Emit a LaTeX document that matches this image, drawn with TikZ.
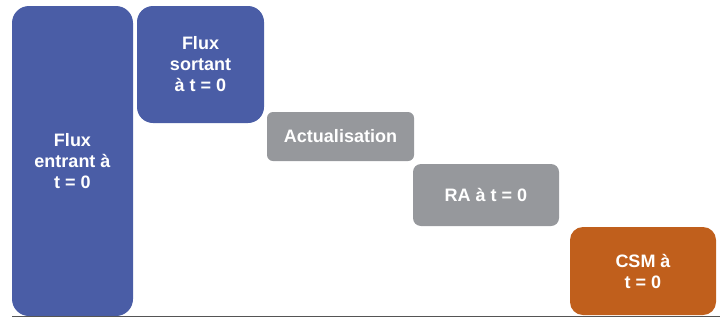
\documentclass[tikz,border=0pt]{standalone}
\usepackage{fontspec}
\setmainfont{Liberation Sans}
\definecolor{fluxblue}{HTML}{4A5DA6}
\definecolor{stepgray}{HTML}{96989C}
\definecolor{csmorange}{HTML}{C05F1C}
\definecolor{axisgray}{HTML}{555555}
\tikzset{
  block/.style={draw=none, text=white, align=center, inner sep=0pt,
    font=\fontsize{18}{21}\selectfont\bfseries},
}
\begin{document}
\begin{tikzpicture}[x=1pt, y=-1pt]
  \useasboundingbox (0,0) rectangle (723,322);
  % waterfall blocks (pixel coordinates, y downward)
  \node[block, fill=fluxblue, rounded corners=17pt, minimum width=121pt, minimum height=310pt]
    (entrant) at (72.5,161) {Flux\\entrant à\\t = 0};
  \node[block, fill=fluxblue, rounded corners=16pt, minimum width=127pt, minimum height=117pt]
    (sortant) at (200.5,64.5) {Flux\\sortant\\à t = 0};
  \node[block, fill=stepgray, rounded corners=6pt, minimum width=147pt, minimum height=49pt]
    (actu) at (340.5,136.5) {Actualisation};
  \node[block, fill=stepgray, rounded corners=8pt, minimum width=146pt, minimum height=62pt]
    (ra) at (486,195) {RA à t = 0};
  \node[block, fill=csmorange, rounded corners=13pt, minimum width=146pt, minimum height=88pt]
    (csm) at (643,271) {CSM à\\t = 0};
  % base line
  \coordinate (axisL) at (12,316.5);
  \coordinate (axisR) at (720,316.5);
  \draw[axisgray, line width=1.2pt] (axisL) -- (axisR);
\end{tikzpicture}
\end{document}
